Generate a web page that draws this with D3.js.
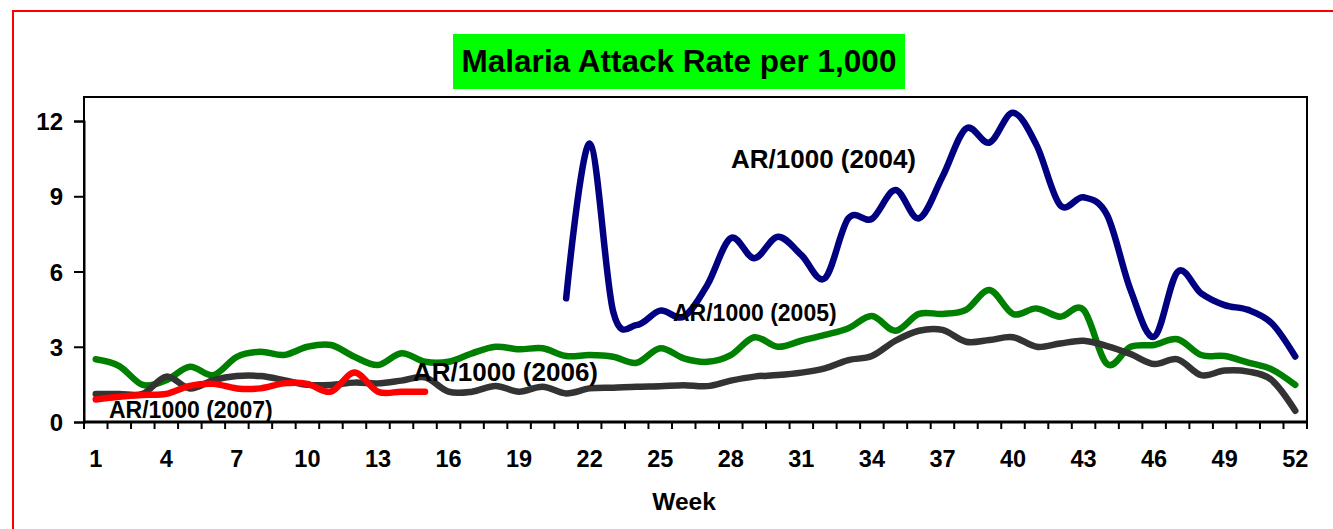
<!DOCTYPE html>
<html><head><meta charset="utf-8">
<script src="https://cdn.jsdelivr.net/npm/d3@7"></script>
<style>body{margin:0;background:#fff;} svg{display:block;font-family:Arial,"Liberation Sans",sans-serif;}</style>
</head><body>
<svg id="c" width="1333" height="529"></svg>
<script>
const weeks = d3.range(1, 53);
const xTickLabels = [1,4,7,10,13,16,19,22,25,28,31,34,37,40,43,46,49,52];
const yTicks = [0,3,6,9,12];

// 2004 starts at week 21
const ar2004 = [null,null,null,null,null,null,null,null,null,null,null,null,null,null,null,null,null,null,null,null,
  4.93,11.1,4.4,3.87,4.44,4.2,5.46,7.33,6.53,7.39,6.66,5.73,8.12,8.1,9.25,8.12,
  9.78,11.7,11.14,12.33,11.04,8.65,8.96,8.25,5.26,3.4,5.99,5.13,4.66,4.47,3.94,2.61];
const ar2005 = [2.5,2.23,1.48,1.67,2.2,1.87,2.6,2.8,2.67,3.0,3.07,2.6,2.27,2.74,2.4,2.4,2.74,3.0,2.9,2.94,
  2.63,2.67,2.6,2.36,2.94,2.54,2.4,2.67,3.38,3.0,3.24,3.47,3.74,4.23,3.64,4.31,
  4.31,4.47,5.26,4.31,4.53,4.2,4.47,2.31,3.0,3.07,3.3,2.67,2.63,2.37,2.1,1.48];
const ar2006 = [1.12,1.12,1.12,1.81,1.34,1.67,1.83,1.83,1.67,1.48,1.48,1.57,1.54,1.65,1.78,1.21,1.21,1.44,1.21,1.41,
  1.14,1.34,1.37,1.41,1.43,1.47,1.43,1.65,1.81,1.87,1.97,2.14,2.47,2.63,3.24,3.64,
  3.67,3.2,3.27,3.38,3.0,3.13,3.24,3.03,2.71,2.31,2.5,1.87,2.05,2.01,1.67,0.45];
const ar2007 = [0.9,1.01,1.08,1.12,1.44,1.52,1.34,1.34,1.54,1.52,1.21,1.97,1.21,1.21,1.21];

const seriesNames = ["AR/1000 (2004)","AR/1000 (2005)","AR/1000 (2006)","AR/1000 (2007)"];
const seriesColors = ["#000080","#008000","#333333","#FF0000"];
const seriesData = [ar2004, ar2005, ar2006, ar2007];

const svg = d3.select("#c");
const L = 84, R = 1307, T = 97, B = 422;

// outer red frame
svg.append("path").attr("d","M13,529 V11 H1333").attr("fill","none").attr("stroke","#ff0000").attr("stroke-width",2);

// title
svg.append("rect").attr("x",453).attr("y",34).attr("width",452).attr("height",55).attr("fill","#00ff00");
svg.append("text").attr("x",679).attr("y",72).attr("text-anchor","middle")
  .attr("font-size",31.5).attr("font-weight","bold").text("Malaria Attack Rate per 1,000");

const x = d3.scaleBand().domain(weeks).range([L, R]).padding(0);
const y = d3.scaleLinear().domain([0, 12]).range([B, B - 12 * 25.08]);

// plot frame
svg.append("rect").attr("x",L).attr("y",T).attr("width",R-L).attr("height",B-T)
  .attr("fill","none").attr("stroke","#000").attr("stroke-width",2);

// y axis
const yAxis = svg.append("g").attr("transform",`translate(${L},0)`)
  .call(d3.axisLeft(y).tickValues(yTicks).tickSize(10).tickPadding(11));
yAxis.select(".domain").attr("stroke-width",2);
yAxis.selectAll(".tick line").attr("stroke-width",2);
yAxis.selectAll("text").attr("font-size",24).attr("font-weight","bold").attr("font-family","Arial,'Liberation Sans',sans-serif").attr("fill","#000").attr("dy","0.36em");

// x axis: ticks at category boundaries
const xAxisG = svg.append("g").attr("transform",`translate(0,${B})`);
xAxisG.append("line").attr("x1",L).attr("x2",R).attr("stroke","#000").attr("stroke-width",3);
const bounds = d3.range(0, 53).map(i => L + i * x.bandwidth());
xAxisG.selectAll("line.tk").data(bounds).join("line").attr("class","tk")
  .attr("x1",d=>d).attr("x2",d=>d).attr("y1",0).attr("y2",7).attr("stroke","#000").attr("stroke-width",2);
xAxisG.selectAll("text").data(xTickLabels).join("text")
  .attr("x",d=>x(d)+x.bandwidth()/2).attr("y",45).attr("text-anchor","middle")
  .attr("font-size",23.5).attr("font-weight","bold").text(d=>d);

svg.append("text").attr("x",684).attr("y",510).attr("text-anchor","middle")
  .attr("font-size",24.5).attr("font-weight","bold").text("Week");

// lines
const line = d3.line()
  .defined(d => d.v != null)
  .x(d => x(d.w) + x.bandwidth()/2)
  .y(d => y(d.v))
  .curve(d3.curveCardinal.tension(0));

const drawOrder = [1,2,3,0];
drawOrder.forEach(i => {
  const pts = seriesData[i].map((v, k) => ({w: weeks[k], v}));
  svg.append("path").datum(pts).attr("d", line).attr("fill","none")
    .attr("stroke", seriesColors[i]).attr("stroke-width",6.5)
    .attr("stroke-linecap","round").attr("stroke-linejoin","round");
});

// series labels
const labels = [
  {i:0, x:731, y:168, s:26},
  {i:1, x:673, y:321, s:23},
  {i:2, x:413, y:381, s:26},
  {i:3, x:109, y:418, s:23}
];
labels.forEach(l => {
  svg.append("text").attr("x",l.x).attr("y",l.y).attr("font-size",l.s)
    .attr("font-weight","bold").attr("fill","#000").text(seriesNames[l.i]);
});
</script>
</body></html>
